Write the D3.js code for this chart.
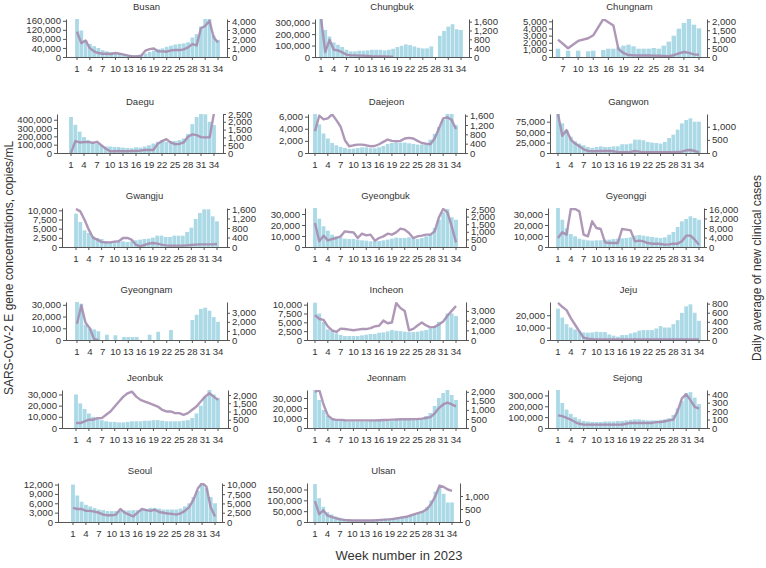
<!DOCTYPE html>
<html><head><meta charset="utf-8">
<script src="https://cdn.jsdelivr.net/npm/d3@7"></script>
<style>
body{margin:0;background:#fff}
svg text{font-family:"Liberation Sans",Arial,sans-serif;fill:#333}
</style>
</head><body>
<svg id="chart" width="766" height="568"></svg>
<script>
const N = null;
const weekTicks = [1,4,7,10,13,16,19,22,25,28,31,34];

// ---- data: wastewater concentration (bars) and daily cases (line), weeks 1..34 ----
const concBusan = [170000,117000,75000,58000,48000,40000,30000,25000,22000,18000,15000,12000,10000,9000,8000,10000,15000,22000,28000,35000,38000,45000,50000,55000,58000,60000,65000,86000,101000,135000,175000,175000,95000,76000];
const casesBusan = [2825,1540,1835,990,620,440,367,367,330,440,367,257,147,73,73,147,700,880,950,620,620,590,734,770,770,845,1064,1430,1285,3190,3450,4030,2165,1615];
const concChungbuk = [330000,236000,179000,127000,107000,87000,63000,49000,49000,55000,55000,58000,63000,63000,63000,58000,63000,72000,87000,98000,110000,104000,92000,81000,75000,75000,92000,N,185000,228000,265000,286000,242000,236000];
const casesChungbuk = [1750,224,778,329,300,209,105,75,75,60,60,50,30,30,20,20,15,10,N,N,N,N,N,N,N,N,N,N,N,N,N,N,N,N];
const concChungnam = [N,N,N,N,N,1170,N,890,N,890,N,795,890,N,980,1170,1170,1355,1590,1730,1500,1170,1170,1170,1260,1170,1590,2150,2990,3970,4770,5330,4530,4020];
const casesChungnam = [N,N,N,N,N,970,N,490,N,900,N,1050,1215,N,2130,1950,1760,450,225,110,90,80,80,80,75,70,60,50,100,200,280,230,150,120];
const concDaegu = [433000,339000,257000,192000,151000,135000,114000,94000,78000,78000,73000,73000,65000,61000,57000,69000,65000,78000,94000,114000,135000,155000,135000,143000,143000,155000,175000,229000,347000,433000,482000,465000,376000,335000];
const casesDaegu = [0,760,675,695,717,650,717,500,283,108,108,130,108,108,130,130,152,196,196,196,587,760,890,675,565,587,675,1043,1195,1150,1020,1000,1000,2565];
const concDaejeon = [6500,4720,3220,2390,1670,1280,1000,830,670,720,830,940,940,780,780,940,1170,1500,1670,1720,1720,1720,1610,1500,1390,1390,1600,2200,3150,4300,5500,6500,6500,4600];
const casesDaejeon = [937,1600,1440,1485,1660,1410,1125,548,288,330,360,360,330,288,300,375,475,576,520,505,520,620,650,620,520,430,400,375,620,1050,1485,1530,1410,1025];
const concGangwon = [95000,71000,55000,39000,28000,22600,18500,14500,12000,14500,16000,14500,14500,16000,16000,21000,21000,22600,32000,32000,30600,26600,25000,24000,22600,26600,36000,44000,56000,71000,79000,83000,75000,75000];
const casesGangwon = [1490,654,872,513,360,256,141,77,64,64,77,77,77,64,38,26,26,38,77,51,26,26,26,26,26,26,26,26,38,51,103,115,77,26];
const concGwangju = [9090,6820,4550,3820,2910,2450,2180,1550,1360,1360,1360,1550,1360,1550,1820,2000,2180,2270,2550,3090,3090,2730,2730,3090,3090,3090,4090,5270,7640,9270,10270,10270,8360,7000];
const casesGwangju = [1600,1500,1150,730,380,310,210,196,196,225,240,380,380,310,98,28,84,140,168,140,98,70,56,56,56,56,70,84,98,112,112,112,112,126];
const concGyeongbuk = [35400,25750,18800,14850,11200,9700,8800,7600,7300,7300,6700,6060,5760,5150,5150,5450,6060,6700,7600,8500,8200,8200,8800,8200,7300,8200,9700,11800,17300,24800,31500,34500,27000,24800];
const casesGyeongbuk = [1580,373,745,439,526,592,700,1030,987,965,592,877,767,811,417,592,700,877,811,965,1206,1140,921,592,700,745,811,811,1030,1950,2500,2280,1360,307];
const concGyeonggi = [36000,24800,17000,11800,9700,7600,6700,6060,5760,6060,6060,6700,6700,7300,7600,7900,8200,8800,10300,10900,10300,9700,9100,8500,8200,8800,11200,13600,18200,23300,25450,27900,26400,24800];
const casesGyeonggi = [3790,6175,5190,16000,16000,15000,5190,4490,10800,7990,7580,1965,1680,1680,1680,7580,7300,7020,2390,2670,2390,1680,1400,1400,1260,980,1120,1400,1400,2390,4770,4770,3090,980];
const concGyeongnam = [32400,31000,13000,10000,9000,7500,N,4500,N,4000,N,2500,2500,2500,2500,N,N,4500,N,7000,N,N,8500,N,N,N,N,17000,21500,26500,27500,25000,19500,15500];
const casesGyeongnam = [1800,3800,1900,1300,100,0,N,N,N,N,N,N,N,N,N,N,N,N,N,N,N,N,N,N,N,N,N,N,N,N,N,N,N,N];
const concIncheon = [10560,7480,5140,2990,2520,1870,1400,1120,1120,1120,1120,1310,1500,1680,1680,2060,2150,2430,2800,2620,2520,2340,2240,2240,2340,2620,2800,3270,3930,5140,N,7500,7500,6800];
const casesIncheon = [2570,2170,2070,1400,1000,830,1170,1130,1070,1000,1070,1130,1130,1230,1400,1470,2000,1730,1800,3800,3300,3000,1000,1150,1500,1800,1500,1300,1350,1600,1900,2500,3000,3500];
const concJeju = [25300,18100,12800,10100,8500,7500,6100,5900,6100,6700,6400,6400,4500,3500,2700,4000,4000,5300,6100,7500,8000,8000,8000,9300,11200,10100,10100,12800,16000,21900,27200,28800,22000,15500];
const casesJeju = [815,730,657,480,335,190,50,28,20,14,14,14,10,10,10,10,10,10,10,10,10,10,10,10,10,10,10,10,10,10,10,10,10,10];
const concJeonbuk = [30000,22000,17000,13000,10000,8000,7000,6000,5500,5500,5000,5000,5500,6000,6000,6000,6500,6500,7000,7000,6500,6000,6000,6000,6000,6500,7000,9000,13000,20000,28000,35000,30000,27000];
const casesJeonbuk = [300,300,400,500,500,600,600,800,1000,1300,1600,1900,2100,2200,1900,1700,1600,1500,1400,1300,1100,1000,1000,900,900,800,900,1100,1300,1600,1900,2100,1900,1700];
const concJeonnam = [38000,28000,18000,12000,9000,8000,7000,7000,6500,6500,6500,6500,6500,7000,7000,7000,7000,7500,7500,8000,8000,8000,8000,8000,8500,9000,12000,15000,22000,30000,35000,38000,33000,28000];
const casesJeonnam = [2000,2100,1300,700,500,450,450,430,420,420,420,420,420,420,420,430,440,450,460,470,480,480,480,490,500,520,550,600,800,1100,1300,1400,1300,1200];
const concSejong = [350000,230000,170000,130000,100000,80000,65000,60000,55000,55000,55000,60000,60000,60000,65000,65000,70000,75000,80000,80000,75000,70000,70000,70000,75000,80000,90000,120000,180000,250000,320000,330000,280000,220000];
const casesSejong = [150,140,120,100,70,50,40,40,40,40,40,40,40,40,40,40,50,60,60,60,60,60,60,70,70,80,90,100,200,350,400,330,250,230];
const concSeoul = [12000,8500,6500,5500,5000,4500,4000,3800,3500,3500,3500,3500,3700,3700,3800,3800,4000,4200,4500,4500,4300,4000,4000,4000,4000,4300,5000,6000,8000,10000,12000,11000,8000,6000];
const casesSeoul = [3800,3500,3500,3000,3000,2800,2500,2000,1800,1800,2000,3500,2500,2000,1500,2500,3500,3200,3000,3300,2700,2500,2300,2200,2000,2300,3000,4000,6000,9000,10500,9500,4000,1500];
const concUlsan = [175000,110000,70000,45000,35000,25000,20000,15000,12000,11000,10000,10000,10000,10000,11000,12000,14000,16000,18000,20000,22000,25000,28000,30000,35000,40000,50000,70000,100000,140000,160000,130000,90000,90000];
const casesUlsan = [800,300,450,250,200,150,100,80,70,60,60,60,60,60,60,70,80,90,100,120,150,180,200,250,300,350,400,500,700,1000,1400,1350,1250,1200];

// ---- axis tick values ----
const ticksBusanL = [0,40000,80000,120000,160000], ticksBusanR = [0,1000,2000,3000,4000];
const ticksChungbukL = [0,100000,200000,300000], ticksChungbukR = [0,400,800,1200,1600];
const ticksChungnamL = [0,1000,2000,3000,4000,5000], ticksChungnamR = [0,500,1000,1500,2000];
const ticksDaeguL = [0,100000,200000,300000,400000], ticksDaeguR = [0,500,1000,1500,2000,2500];
const ticksDaejeonL = [0,2000,4000,6000], ticksDaejeonR = [0,400,800,1200,1600];
const ticksGangwonL = [0,25000,50000,75000], ticksGangwonR = [0,500,1000];
const ticksGwangjuL = [0,2500,5000,7500,10000], ticksGwangjuR = [0,400,800,1200,1600];
const ticksGyeongbukL = [0,10000,20000,30000], ticksGyeongbukR = [0,500,1000,1500,2000,2500];
const ticksGyeonggiL = [0,10000,20000,30000], ticksGyeonggiR = [0,4000,8000,12000,16000];
const ticksGyeongnamL = [0,10000,20000,30000], ticksGyeongnamR = [0,1000,2000,3000];
const ticksIncheonL = [0,2500,5000,7500,10000], ticksIncheonR = [0,1000,2000,3000];
const ticksJejuL = [0,10000,20000], ticksJejuR = [0,200,400,600,800];
const ticksJeonbukL = [0,10000,20000,30000], ticksJeonbukR = [0,500,1000,1500,2000];
const ticksJeonnamL = [0,10000,20000,30000], ticksJeonnamR = [0,500,1000,1500,2000];
const ticksSejongL = [0,100000,200000,300000], ticksSejongR = [0,100,200,300,400];
const ticksSeoulL = [0,3000,6000,9000,12000], ticksSeoulR = [0,2500,5000,7500,10000];
const ticksUlsanL = [0,50000,100000,150000], ticksUlsanR = [0,500,1000];

// ---- panel layout ----
const rowTop  = [19,114,208,302,390,483];
const rowZero = [57,153,247,340,428,522];
const panels = [
 {name:"Busan",     conc:concBusan,     cases:casesBusan,     tl:ticksBusanL,     tr:ticksBusanR,     lmax:168000, rmax:4220,  row:0, axL:66,  axR:227, x1:77,  x34:218, w0:1},
 {name:"Chungbuk",  conc:concChungbuk,  cases:casesChungbuk,  tl:ticksChungbukL,  tr:ticksChungbukR,  lmax:332000, rmax:1720,  row:0, axL:315, axR:469, x1:321, x34:461, w0:1},
 {name:"Chungnam",  conc:concChungnam,  cases:casesChungnam,  tl:ticksChungnamL,  tr:ticksChungnamR,  lmax:5330,   rmax:2130,  row:0, axL:552, axR:707, x1:558, x34:699, w0:6},
 {name:"Daegu",     conc:concDaegu,     cases:casesDaegu,     tl:ticksDaeguL,     tr:ticksDaeguR,     lmax:469000, rmax:2500,  row:1, axL:57,  axR:223, x1:71,  x34:214, w0:1},
 {name:"Daejeon",   conc:concDaejeon,   cases:casesDaejeon,   tl:ticksDaejeonL,   tr:ticksDaejeonR,   lmax:6440,   rmax:1672,  row:1, axL:308, axR:465, x1:315, x34:456, w0:1},
 {name:"Gangwon",   conc:concGangwon,   cases:casesGangwon,   tl:ticksGangwonL,   tr:ticksGangwonR,   lmax:93500,  rmax:1487,  row:1, axL:550, axR:707, x1:558, x34:699, w0:1},
 {name:"Gwangju",   conc:concGwangju,   cases:casesGwangju,   tl:ticksGwangjuL,   tr:ticksGwangjuR,   lmax:10636,  rmax:1642,  row:2, axL:62,  axR:227, x1:76,  x34:217, w0:1},
 {name:"Gyeongbuk", conc:concGyeongbuk, cases:casesGyeongbuk, tl:ticksGyeongbukL, tr:ticksGyeongbukR, lmax:35450,  rmax:2566,  row:2, axL:305, axR:466, x1:315, x34:456, w0:1},
 {name:"Gyeonggi",  conc:concGyeonggi,  cases:casesGyeonggi,  tl:ticksGyeonggiL,  tr:ticksGyeonggiR,  lmax:35450,  rmax:16420, row:2, axL:548, axR:704, x1:558, x34:699, w0:1},
 {name:"Gyeongnam", conc:concGyeongnam, cases:casesGyeongnam, tl:ticksGyeongnamL, tr:ticksGyeongnamR, lmax:32400,  rmax:4190,  row:3, axL:66,  axR:227, x1:77,  x34:218, w0:1},
 {name:"Incheon",   conc:concIncheon,   cases:casesIncheon,   tl:ticksIncheonL,   tr:ticksIncheonR,   lmax:10750,  rmax:3920,  row:3, axL:307, axR:466, x1:315, x34:456, w0:1},
 {name:"Jeju",      conc:concJeju,      cases:casesJeju,      tl:ticksJejuL,      tr:ticksJejuR,      lmax:30700,  rmax:836,   row:3, axL:550, axR:707, x1:558, x34:699, w0:1},
 {name:"Jeonbuk",   conc:concJeonbuk,   cases:casesJeonbuk,   tl:ticksJeonbukL,   tr:ticksJeonbukR,   lmax:34000,  rmax:2300,  row:4, axL:62,  axR:228, x1:76,  x34:218, w0:1},
 {name:"Jeonnam",   conc:concJeonnam,   cases:casesJeonnam,   tl:ticksJeonnamL,   tr:ticksJeonnamR,   lmax:38000,  rmax:2100,  row:4, axL:307, axR:466, x1:315, x34:456, w0:1},
 {name:"Sejong",    conc:concSejong,    cases:casesSejong,    tl:ticksSejongL,    tr:ticksSejongR,    lmax:350000, rmax:450,   row:4, axL:548, axR:707, x1:558, x34:699, w0:1},
 {name:"Seoul",     conc:concSeoul,     cases:casesSeoul,     tl:ticksSeoulL,     tr:ticksSeoulR,     lmax:12500,  rmax:10500, row:5, axL:58,  axR:222, x1:73,  x34:215, w0:1},
 {name:"Ulsan",     conc:concUlsan,     cases:casesUlsan,     tl:ticksUlsanL,     tr:ticksUlsanR,     lmax:180000, rmax:1500,  row:5, axL:307, axR:460, x1:315, x34:452, w0:1}
];

const svg = d3.select("#chart");
const fmt = d3.format(",");
const barColor = "#abd9e6", lineColor = "#a68caf", axisColor = "#555";

panels.forEach((p, i) => {
  const top = rowTop[p.row], zero = rowZero[p.row];
  const wk = d3.range(p.w0, 35);
  const s = (p.x34 - p.x1) / (wk.length - 1);
  const x = d3.scaleBand().domain(wk).range([p.x1 - s/2, p.x34 + s/2]).paddingInner(0.12).paddingOuter(0.06);
  const yL = d3.scaleLinear().domain([0, p.lmax]).range([zero, top]);
  const yR = d3.scaleLinear().domain([0, p.rmax]).range([zero, top]);
  const g = svg.append("g");
  const cid = "clip" + i;
  g.append("clipPath").attr("id", cid).append("rect")
    .attr("x", p.axL).attr("y", top).attr("width", p.axR - p.axL).attr("height", zero - top);

  const rows = wk.map(w => ({w, c: p.conc[w-1], k: p.cases[w-1]}));
  g.append("g").attr("clip-path", `url(#${cid})`).selectAll("rect")
    .data(rows.filter(d => d.c != null)).join("rect")
    .attr("x", d => x(d.w)).attr("width", x.bandwidth())
    .attr("y", d => yL(d.c)).attr("height", d => zero - yL(d.c))
    .attr("fill", barColor);

  const line = d3.line().x(d => x(d.w) + x.bandwidth()/2).y(d => yR(d.k));
  g.append("path").attr("clip-path", `url(#${cid})`)
    .datum(rows.filter(d => d.k != null))
    .attr("d", line).attr("fill", "none").attr("stroke", lineColor)
    .attr("stroke-width", 2.4).attr("stroke-linejoin", "round").attr("stroke-opacity", 0.9);

  // axes
  const ax = g.append("g").attr("transform", `translate(${p.axL},0)`)
    .call(d3.axisLeft(yL).tickValues(p.tl).tickFormat(fmt).tickSize(3).tickSizeOuter(0).tickPadding(2));
  const axr = g.append("g").attr("transform", `translate(${p.axR},0)`)
    .call(d3.axisRight(yR).tickValues(p.tr).tickFormat(fmt).tickSize(3).tickSizeOuter(0).tickPadding(2));
  const bx = g.append("g").attr("transform", `translate(0,${zero})`)
    .call(d3.axisBottom(x).tickValues(weekTicks.filter(w => w >= p.w0)).tickSize(3).tickPadding(5));
  bx.select(".domain").remove();
  g.append("line").attr("x1", p.axL).attr("x2", p.axR).attr("y1", zero + 0.5).attr("y2", zero + 0.5)
    .attr("stroke", axisColor);
  [ax, axr].forEach(a => a.selectAll(".tick text").attr("font-size", 9.6));
  bx.selectAll(".tick text").attr("font-size", 9.6);
  [ax, axr, bx].forEach(a => {
    a.selectAll("path.domain").attr("stroke", axisColor);
    a.selectAll(".tick line").attr("stroke", axisColor);
    a.selectAll(".tick text").style("font-family", '"Liberation Sans",Arial,sans-serif').attr("fill", "#333");
  });

  g.append("text").attr("x", (p.axL + p.axR) / 2).attr("y", top - 9)
    .attr("text-anchor", "middle").attr("font-size", 9.5).text(p.name);
});

svg.append("text").attr("transform", "translate(13,268) rotate(-90)")
  .attr("text-anchor", "middle").attr("font-size", 12).text("SARS-CoV-2 E gene concentrations, copies/mL");
svg.append("text").attr("transform", "translate(761,268) rotate(-90)")
  .attr("text-anchor", "middle").attr("font-size", 12).text("Daily average of new clinical cases");
svg.append("text").attr("x", 399).attr("y", 560)
  .attr("text-anchor", "middle").attr("font-size", 13).text("Week number in 2023");
</script>
</body></html>
